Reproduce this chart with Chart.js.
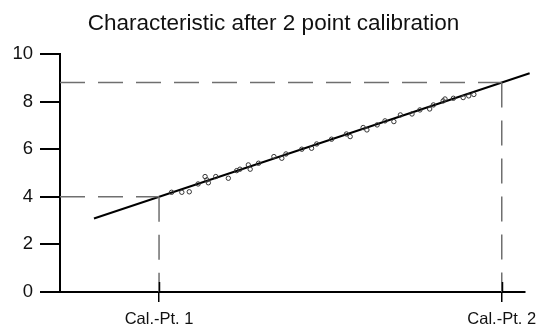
<!DOCTYPE html>
<html>
<head>
<meta charset="utf-8">
<script src="https://cdn.jsdelivr.net/npm/chart.js@4.4.1/dist/chart.umd.min.js"></script>
<style>
  html, body { margin: 0; padding: 0; background: #fff; }
  #wrap { width: 536px; height: 327px; }
</style>
</head>
<body>
<div id="wrap"><canvas id="chart" width="536" height="327"></canvas></div>
<script>
// calibration points on the x axis (position, label)
const calPoints = [2.13, 9.5];
const calLabels = ["Cal.-Pt. 1", "Cal.-Pt. 2"];
const calValues = [4, 8.8];

// fitted characteristic line (start / end)
const lineX = [0.73, 10.1];
const lineY = [3.09, 9.19];

const measX = [2.40, 2.62, 2.78, 2.97, 3.12, 3.16, 3.19, 3.35, 3.62, 3.80, 3.87, 4.05, 4.09, 4.27,
  4.60, 4.77, 4.86, 5.20, 5.41, 5.52, 5.84, 6.16, 6.24, 6.52, 6.60, 6.82, 6.99, 7.18, 7.32, 7.57,
  7.74, 7.95, 8.03, 8.24, 8.28, 8.46, 8.67, 8.79, 8.90];
const measY = [4.19, 4.19, 4.21, 4.54, 4.85, 4.71, 4.59, 4.85, 4.78, 5.10, 5.16, 5.34, 5.16, 5.41,
  5.69, 5.62, 5.80, 6.00, 6.04, 6.22, 6.42, 6.64, 6.53, 6.91, 6.81, 7.02, 7.19, 7.16, 7.44, 7.48,
  7.65, 7.69, 7.86, 8.03, 8.11, 8.14, 8.17, 8.24, 8.30];

const yTicks = [0, 2, 4, 6, 8, 10];

const dashStyle = {
  type: "line",
  borderColor: "#6f6f6f",
  borderWidth: 1.5,
  borderDash: [25, 13],
  pointRadius: 0,
  fill: false,
};

// dashed guides built from the calibration values
const guides = [];
calPoints.forEach((cx, i) => {
  guides.push(Object.assign({}, dashStyle, { data: [{ x: 0, y: calValues[i] }, { x: cx, y: calValues[i] }] }));
  guides.push(Object.assign({}, dashStyle, { data: [{ x: cx, y: calValues[i] }, { x: cx, y: 0 }] }));
});

// short tick marks above the x axis at the cal points
const upTicks = {
  id: "upTicks",
  afterLayout(chart) {
    // nudge the title a bit to the right, like the original
    if (chart.titleBlock) chart.titleBlock.left = 22;
  },
  afterDraw(chart) {
    const ctx = chart.ctx;
    const xs = chart.scales.x;
    const y0 = chart.scales.y.getPixelForValue(0);
    ctx.save();
    ctx.strokeStyle = "#000";
    ctx.lineWidth = 1.5;
    calPoints.forEach(v => {
      const px = Math.round(xs.getPixelForValue(v)) + 0.5;
      ctx.beginPath();
      ctx.moveTo(px, y0);
      ctx.lineTo(px, y0 - 10);
      ctx.stroke();
    });
    ctx.restore();
  }
};

new Chart(document.getElementById("chart"), {
  plugins: [upTicks],
  data: {
    datasets: [
      ...guides,
      {
        type: "scatter",
        data: measX.map((x, i) => ({ x: x, y: measY[i] })),
        pointStyle: "circle",
        pointRadius: 2.2,
        borderColor: "#333",
        backgroundColor: "rgba(0,0,0,0)",
        borderWidth: 1,
      },
      {
        type: "line",
        data: lineX.map((x, i) => ({ x: x, y: lineY[i] })),
        borderColor: "#000",
        borderWidth: 2,
        pointRadius: 0,
        fill: false,
        clip: false,
      },
    ],
  },
  options: {
    responsive: false,
    animation: false,
    layout: { padding: { left: 0, right: 11, top: 0, bottom: 0 } },
    plugins: {
      legend: { display: false },
      tooltip: { enabled: false },
      title: {
        display: true,
        text: "Characteristic after 2 point calibration",
        color: "#111",
        font: { family: "'Liberation Sans', Arial, sans-serif", size: 22.5, weight: "normal" },
        padding: { top: 10, bottom: 17 },
      },
    },
    scales: {
      x: {
        type: "linear",
        min: 0,
        max: 10,
        afterBuildTicks: (scale) => { scale.ticks = calPoints.map(v => ({ value: v })); },
        afterFit: (scale) => { scale.height = 35; scale.paddingLeft = 0; scale.paddingRight = 0; },
        ticks: {
          autoSkip: false,
          maxRotation: 0,
          padding: 8,
          color: "#111",
          font: { family: "'Liberation Sans', Arial, sans-serif", size: 16.5 },
          callback: (v) => calLabels[calPoints.indexOf(v)],
        },
        grid: { drawOnChartArea: false, tickLength: 10, color: "#000", lineWidth: 1.5 },
        border: { color: "#000", width: 2 },
      },
      y: {
        type: "linear",
        min: 0,
        max: 10,
        afterBuildTicks: (scale) => { scale.ticks = yTicks.map(v => ({ value: v })); },
        afterFit: (scale) => { scale.width = 60; scale.paddingTop = 0; scale.paddingBottom = 0; },
        ticks: {
          padding: 7,
          color: "#111",
          font: { family: "'Liberation Sans', Arial, sans-serif", size: 18.5 },
        },
        grid: { drawOnChartArea: false, tickLength: 20, color: "#000", lineWidth: 2 },
        border: { color: "#000", width: 2 },
      },
    },
  },
});
</script>
</body>
</html>
